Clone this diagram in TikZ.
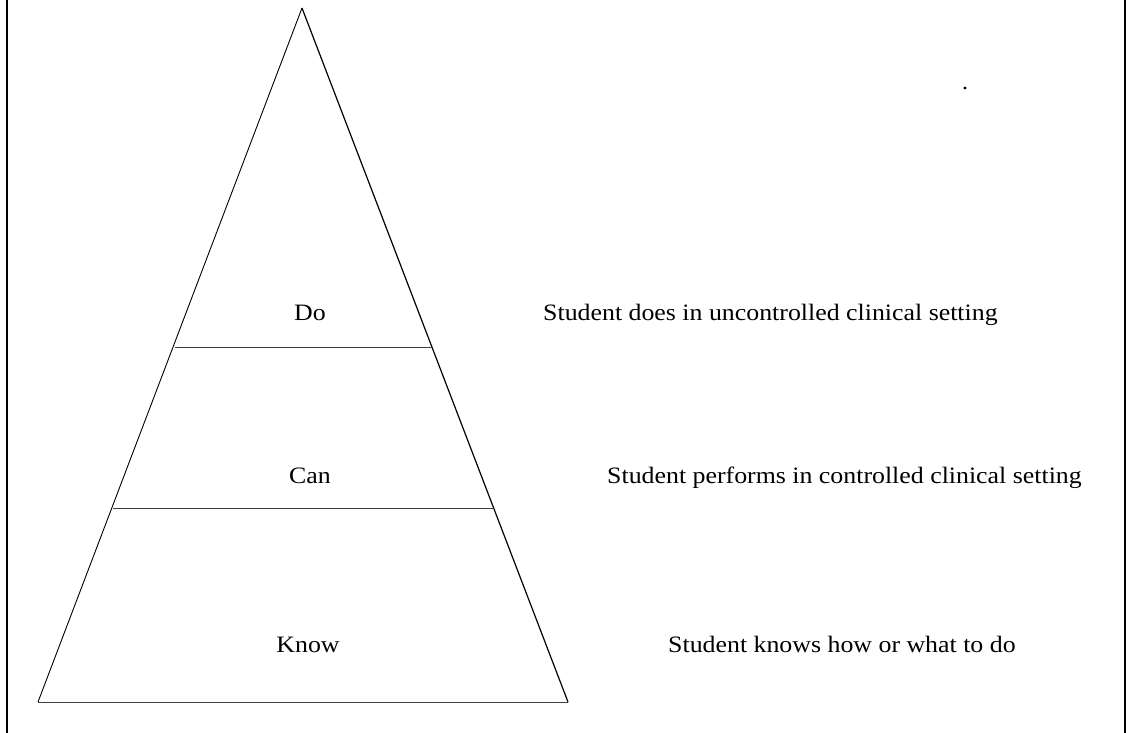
\documentclass[tikz,border=0pt]{standalone}
\usepackage{fontspec}
\setmainfont{Liberation Serif}[FakeStretch=1.1]
\begin{document}
\begin{tikzpicture}[x=1pt,y=-1pt,
  side/.style={line width=1.2pt},
  level/.style={line width=0.9pt, draw=black!75},
  frame/.style={line width=2pt},
  label/.style={font=\fontsize{23.5}{26}\selectfont, inner sep=0pt, anchor=base},
  desc/.style={font=\fontsize{23.5}{26}\selectfont, inner sep=0pt, anchor=base west}]
\useasboundingbox (0,0) rectangle (1129,733);
% frame
\draw[frame] (7,0) -- (7,733);
\draw[frame] (1125,0) -- (1125,733);
% pyramid
\coordinate (apex) at (302,8);
\coordinate (bl) at (38,702);
\coordinate (br) at (568,702);
\coordinate (l1) at (175,347);
\coordinate (r1) at (432,347);
\coordinate (l2) at (113,508);
\coordinate (r2) at (494,508);
\draw[line width=0.9pt] (apex) -- (bl);
\draw[side] (apex) -- (br);
\draw[level] (l1) -- (r1);
\draw[level] (l2) -- (r2);
\draw[level] (bl) -- (br);
% labels
\node[label] (do) at (310,320) {Do};
\node[label] (can) at (310,483) {Can};
\node[label] (know) at (308,652) {Know};
\node[desc] (ddo) at (543,320) {Student does in uncontrolled clinical setting};
\node[desc] (dcan) at (607,483) {Student performs in controlled clinical setting};
\node[desc] (dknow) at (668,652) {Student knows how or what to do};
% stray dot
\fill (965,88) circle (1.6);
\end{tikzpicture}
\end{document}
